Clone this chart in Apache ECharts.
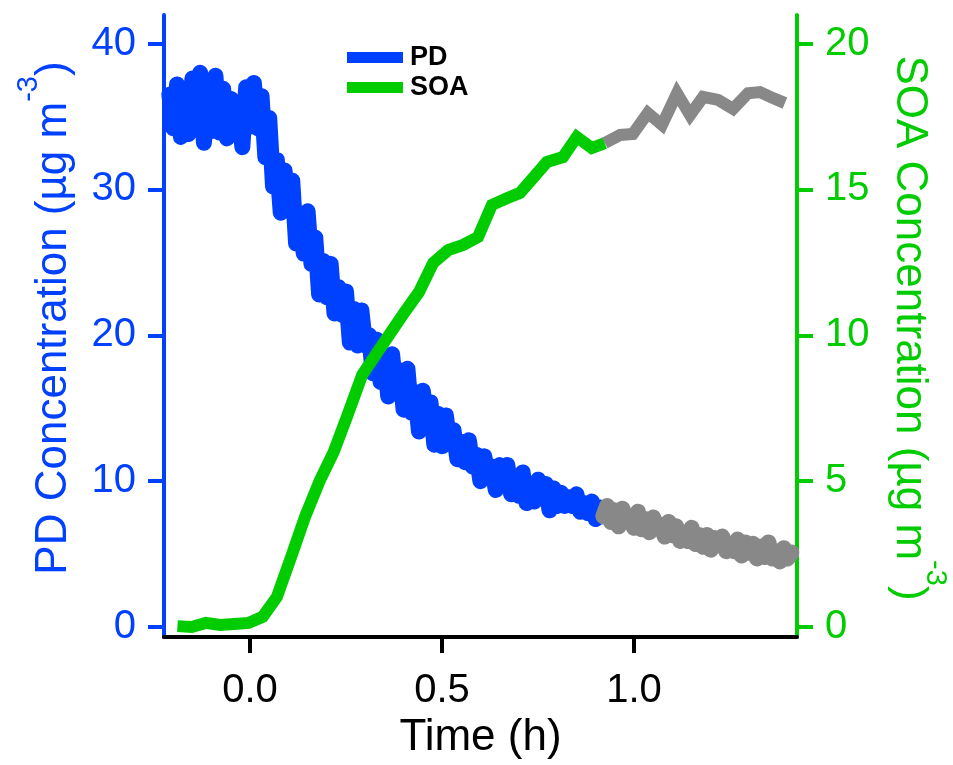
<!DOCTYPE html>
<html><head><meta charset="utf-8">
<script src="https://cdn.jsdelivr.net/npm/echarts@6/dist/echarts.min.js"></script>
<style>html,body{margin:0;padding:0;background:#fff}#c{width:953px;height:765px}</style>
</head><body><div id="c"></div>
<script>
// ---- data ----
const pdTime = [-0.21,-0.2,-0.19,-0.18,-0.17,-0.16,-0.15,-0.14,-0.13,-0.12,-0.11,-0.1,-0.09,-0.08,-0.07,-0.06,-0.05,-0.04,-0.03,-0.02,-0.01,0,0.01,0.02,
0.03,0.04,0.05,0.06,0.07,0.08,0.09,0.1,0.11,0.12,0.13,0.14,0.15,0.16,0.17,0.18,0.19,0.2,
0.21,0.22,0.23,0.24,0.25,0.26,0.27,0.28,0.29,0.3,0.31,0.32,0.33,0.34,0.35,0.36,0.37,0.38,0.39,0.4,0.41,0.42,0.43,0.44,0.45,0.46,0.47,0.48,0.49,0.5,
0.51,0.52,0.53,0.54,0.55,0.56,0.57,0.58,0.59,0.6,0.61,0.62,0.63,0.64,0.65,0.66,0.67,0.68,0.69,0.7,0.71,0.72,0.73,0.74,0.75,0.76,0.77,0.78,0.79,0.8,
0.81,0.82,0.83,0.84,0.85,0.86,0.87,0.88,0.89,0.9,0.91,0.92,0.93,0.94,0.95,0.96,0.97,0.98,0.99,1,1.01,1.02,1.03,1.04,1.05,1.06,1.07,1.08,1.09,1.1,
1.11,1.12,1.13,1.14,1.15,1.16,1.17,1.18,1.19,1.2,1.21,1.22,1.23,1.24,1.25,1.26,1.27,1.28,1.29,1.3,1.31,1.32,1.33,1.34,1.35,1.36,1.37,1.38,1.39,1.4,1.41];
const pdValues = [36.5,34.2,37.2,33.6,36.8,33.8,37.6,34.4,38.0,33.2,37.4,34.0,37.8,33.9,36.9,33.5,36.2,34.6,35.8,32.9,37.0,34.3,37.3,34.2,
36.4,32.2,34.9,30.2,32.0,28.4,31.3,28.6,30.6,26.3,27.9,25.6,28.5,24.9,26.7,22.8,25.1,22.6,
24.9,21.5,23.3,21.4,23.0,19.5,21.8,19.3,21.7,19.3,20.0,17.4,19.7,16.8,18.5,15.8,18.7,16.1,17.6,14.9,17.7,14.7,16.1,13.4,16.2,13.9,15.4,12.5,14.6,12.4,
14.5,12.6,13.5,11.5,12.7,11.3,12.8,11.0,11.8,10.0,11.7,10.4,11.0,9.4,11.1,9.7,11.1,9.1,10.2,9.0,10.6,8.5,9.6,8.6,10.1,8.8,9.8,8.0,9.5,8.3,
9.2,8.3,8.9,8.3,9.1,7.9,8.5,7.8,8.6,7.4,8.2,7.6,8.3,7.2,8.0,6.9,8.1,7.2,7.4,6.8,7.9,6.7,7.4,6.5,7.5,6.8,7.0,6.2,7.2,6.3,
6.9,5.9,6.5,5.9,6.8,5.7,6.3,5.5,6.3,5.3,6.1,5.6,6.2,5.2,5.7,5.2,6.0,4.9,5.8,5.1,5.7,4.7,5.5,4.8,5.8,4.7,5.2,4.5,5.4,4.7,5.1];
const soaTime = [-0.189,-0.152,-0.115,-0.078,-0.041,-0.004,0.033,0.070,0.107,0.144,0.181,0.218,0.255,0.292,0.329,0.366,0.403,0.440,0.477,0.516,0.555,0.594,0.630,0.669,0.703,0.737,0.773,0.815,0.851,0.890,0.924,0.964,0.997,1.036,1.073,1.112,1.146,1.180,1.219,1.258,1.297,1.328,1.362,1.393];
const soaValues = [0.03,0.0,0.14,0.07,0.1,0.14,0.35,1.03,2.4,3.8,5.0,6.0,7.3,8.64,9.36,10.08,10.8,11.48,12.48,12.92,13.1,13.37,14.47,14.7,14.88,15.39,15.94,16.11,16.8,16.42,16.59,16.87,16.9,17.62,17.21,18.3,17.55,18.17,18.07,17.76,18.3,18.34,18.13,17.96];
const xTicks = [0, 0.5, 1.0];
const pdTicks = [0, 10, 20, 30, 40];
const soaTicks = [0, 5, 10, 15, 20];
const grayFrom = 0.92;

// ---- styles ----
const BLUE = '#0040FF', GREEN = '#00CC00', GRAY = '#888888';
const FONT = "'Liberation Sans', Arial, sans-serif";

function split(times, vals) {
  const pts = times.map((t, i) => [t, vals[i]]);
  let idx = times.findIndex(t => t >= grayFrom);
  return { early: pts.slice(0, idx + 1), late: pts.slice(idx) };
}
const pd = split(pdTime, pdValues);
const soa = split(soaTime, soaValues);

const chart = echarts.init(document.getElementById('c'), null, { renderer: 'canvas' });
const axisCommon = (color, ticks) => ({
  type: 'value',
  axisLine: { show: true, onZero: false, lineStyle: { color, width: 4 } },
  axisTick: { show: true, customValues: ticks, length: 16, lineStyle: { color, width: 4 } },
  axisLabel: { customValues: ticks, color, fontSize: 40, fontFamily: FONT, margin: 28 },
  splitLine: { show: false }
});
const nameRich = (color) => ({
  a: { fontSize: 44, fontFamily: FONT, fill: color, lineHeight: 62, verticalAlign: 'bottom' },
  s: { fontSize: 29, fontFamily: FONT, fill: color, lineHeight: 29, verticalAlign: 'top' }
});
chart.setOption({
  animation: false,
  backgroundColor: '#fff',
  grid: { left: 164, right: 156, top: 15, bottom: 128 },
  legend: {
    orient: 'vertical', left: 342, top: 39, icon: 'rect', itemWidth: 56, itemHeight: 11, itemGap: 3,
    textStyle: { fontSize: 27, fontWeight: 'bold', color: '#000', fontFamily: FONT, padding: [0, 0, 0, 2] },
    data: ['PD', 'SOA']
  },
  xAxis: Object.assign(axisCommon('#000', xTicks), {
    min: -0.224, max: 1.4245,
    axisLabel: { customValues: xTicks, color: '#000', fontSize: 40, fontFamily: FONT, margin: 34, formatter: v => v.toFixed(1) },
    name: 'Time (h)', nameLocation: 'middle', nameGap: 78,
    nameTextStyle: { fontSize: 44, color: '#000', fontFamily: FONT }
  }),
  yAxis: [
    Object.assign(axisCommon(BLUE, pdTicks), { position: 'left', min: -0.686, max: 41.96 }),
    Object.assign(axisCommon(GREEN, soaTicks), { position: 'right', min: -0.343, max: 20.98 })
  ],
  graphic: [
    { type: 'text', x: 45, y: 318, rotation: Math.PI / 2,
      style: { text: '{a|PD Concentration (µg m}{s|-3}{a|)}', align: 'center', verticalAlign: 'middle', fill: BLUE, rich: nameRich(BLUE) } },
    { type: 'text', x: 918, y: 328, rotation: -Math.PI / 2,
      style: { text: '{a|SOA Concentration (µg m}{s|-3}{a|)}', align: 'center', verticalAlign: 'middle', fill: GREEN, rich: nameRich(GREEN) } }
  ],
  series: [
    { name: 'PD', type: 'line', yAxisIndex: 0, data: pd.early, showSymbol: false, color: BLUE,
      lineStyle: { color: BLUE, width: 16, cap: 'round', join: 'round' } },
    { name: 'PD-late', type: 'line', yAxisIndex: 0, data: pd.late, showSymbol: false, color: GRAY,
      lineStyle: { color: GRAY, width: 16, cap: 'round', join: 'round' } },
    { name: 'SOA', type: 'line', yAxisIndex: 1, data: soa.early, showSymbol: false, color: GREEN,
      lineStyle: { color: GREEN, width: 12, cap: 'butt', join: 'miter' } },
    { name: 'SOA-late', type: 'line', yAxisIndex: 1, data: soa.late, showSymbol: false, color: GRAY,
      lineStyle: { color: GRAY, width: 12, cap: 'butt', join: 'miter' } }
  ]
});
</script></body></html>
